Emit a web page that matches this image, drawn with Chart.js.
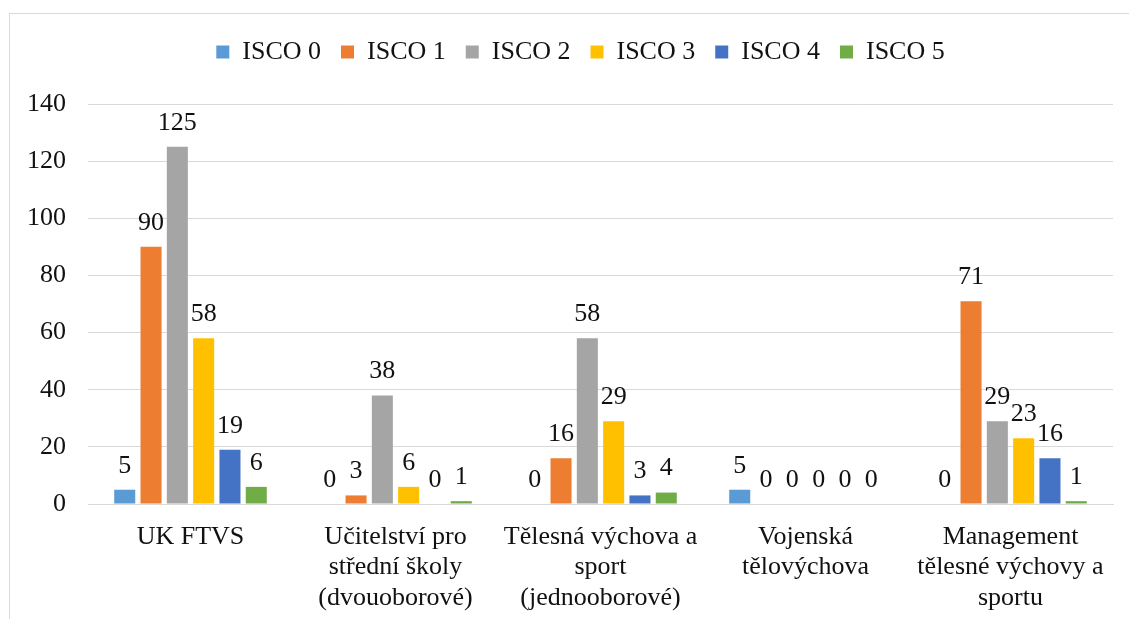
<!DOCTYPE html>
<html>
<head>
<meta charset="utf-8">
<script src="https://cdn.jsdelivr.net/npm/chart.js@4"></script>
<style>
  html, body { margin: 0; padding: 0; background: #fff; overflow: hidden; }
  #wrap { position: relative; width: 1129px; height: 619px; }
  #frame { position: absolute; left: 9px; top: 13px; width: 1200px; height: 700px;
           border: 1.5px solid #d9d9d9; pointer-events: none; }
</style>
</head>
<body>
<div id="wrap">
  <canvas id="myChart" width="1129" height="619"></canvas>
  <div id="frame"></div>
</div>
<script>
var categories = [
  'UK FTVS',
  ['Učitelství pro', 'střední školy', '(dvouoborové)'],
  ['Tělesná výchova a', 'sport', '(jednooborové)'],
  ['Vojenská', 'tělovýchova'],
  ['Management', 'tělesné výchovy a', 'sportu']
]
var seriesNames = ['ISCO 0', 'ISCO 1', 'ISCO 2', 'ISCO 3', 'ISCO 4', 'ISCO 5']
var isco0 = [5, 0, 0, 5, 0]
var isco1 = [90, 3, 16, 0, 71]
var isco2 = [125, 38, 58, 0, 29]
var isco3 = [58, 6, 29, 0, 23]
var isco4 = [19, 0, 3, 0, 16]
var isco5 = [6, 1, 4, 0, 1]
var yTicks = [0, 20, 40, 60, 80, 100, 120, 140]

var colors = ['#5B9BD5', '#ED7D31', '#A5A5A5', '#FFC000', '#4472C4', '#70AD47']
var values = [isco0, isco1, isco2, isco3, isco4, isco5]

Chart.defaults.font.family = '"Liberation Serif", "Times New Roman", serif'
Chart.defaults.font.size = 26
Chart.defaults.color = '#111'

// value labels above each bar
var barLabels = {
  id: 'barLabels',
  afterDatasetsDraw: function (chart) {
    var ctx = chart.ctx
    ctx.save()
    ctx.font = '26px "Liberation Serif", serif'
    ctx.fillStyle = '#111'
    ctx.textAlign = 'center'
    ctx.textBaseline = 'bottom'
    chart.data.datasets.forEach(function (ds, i) {
      chart.getDatasetMeta(i).data.forEach(function (bar, j) {
        ctx.fillText(ds.data[j], bar.x, bar.y - 11)
      })
    })
    ctx.restore()
  }
}

// keep the legend box tall so the plot starts lower, and nudge it right
var legendTweak = {
  id: 'legendTweak',
  beforeUpdate: function (chart) {
    var l = chart.legend
    if (l && !l._patched) {
      var fit = l.fit
      l.fit = function () { fit.call(this); this.height = 85 }
      l._patched = true
    }
  },
  afterLayout: function (chart) {
    var l = chart.legend
    if (l) { l.left += 24; l.right += 24 }
  }
}

var ctx = document.getElementById('myChart').getContext('2d')
var chart = new Chart(ctx, {
  type: 'bar',
  data: {
    labels: categories,
    datasets: seriesNames.map(function (name, i) {
      return {
        label: name,
        data: values[i],
        backgroundColor: colors[i],
        categoryPercentage: 0.77,
        barPercentage: 0.8
      }
    })
  },
  plugins: [barLabels, legendTweak],
  options: {
    responsive: false,
    animation: false,
    layout: { padding: { top: 19, right: 16, left: 0, bottom: 0 } },
    plugins: {
      legend: {
        position: 'top',
        labels: { boxWidth: 13, boxHeight: 13, padding: 20, font: { size: 26 } }
      },
      tooltip: { enabled: false }
    },
    scales: {
      x: {
        grid: { display: false },
        border: { color: '#d9d9d9' },
        ticks: { maxRotation: 0, autoSkip: false, padding: 10, font: { size: 26, lineHeight: 1.17 } },
        afterFit: function (s) { s.height = 115 }
      },
      y: {
        min: 0,
        max: 140,
        afterBuildTicks: function (s) { s.ticks = yTicks.map(function (v) { return { value: v } }) },
        grid: { color: '#d9d9d9', drawTicks: false },
        border: { display: false },
        ticks: { padding: 22 },
        afterFit: function (s) { s.width = 88 }
      }
    }
  }
})
</script>
</body>
</html>
